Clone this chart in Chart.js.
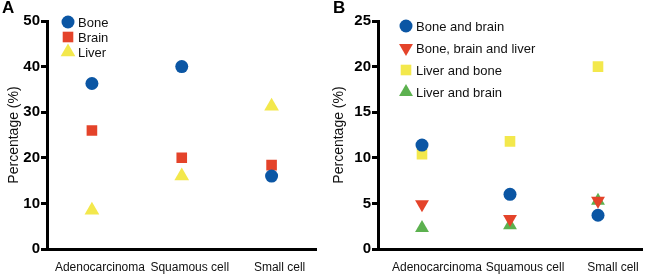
<!DOCTYPE html>
<html>
<head>
<meta charset="utf-8">
<script src="https://cdn.jsdelivr.net/npm/chart.js@4/dist/chart.umd.min.js"></script>
<style>
  body { margin: 0; background: #fff; }
  #wrap { position: relative; width: 650px; height: 277px; }
  .panel { position: absolute; top: 0; width: 325px; height: 277px; }
  .letter { position: absolute; top: -2px; font: bold 17px "Liberation Sans", Arial, sans-serif; }
</style>
</head>
<body>
<div id="wrap">
  <div class="panel" style="left:0"><canvas id="chartA" width="325" height="277"></canvas></div>
  <div class="panel" style="left:325px"><canvas id="chartB" width="325" height="277"></canvas></div>
  <div class="letter" style="left:2px">A</div>
  <div class="letter" style="left:333px">B</div>
</div>
<script>
// categorias
const categorias = ['Adenocarcinoma', 'Squamous cell', 'Small cell'];

// painel A
const boneA = [36.3, 40.0, 16.0];
const brainA = [26.0, 20.0, 18.4];
const liverA = [8.5, 16.0, 31.3];
const ticksA = [0, 10, 20, 30, 40, 50];

// painel B
const boneBrainB = [11.4, 6.0, 3.7];
const boneBrainLiverB = [4.9, 3.3, 5.3];
const liverBoneB = [10.4, 11.8, 20.0];
const liverBrainB = [2.3, 2.6, 5.3];
const ticksB = [0, 5, 10, 15, 20, 25];

const azul = '#0b56a4';
const vermelho = '#e4432a';
const amarelo = '#f3e84c';
const verde = '#5cb14f';
const fonte = '"Liberation Sans", Arial, sans-serif';

function serie(label, data, cor, estilo, raio, rotacao) {
    return {
        label: label,
        data: data,
        showLine: false,
        pointStyle: estilo,
        pointRadius: raio,
        pointHoverRadius: raio,
        pointRotation: rotacao || 0,
        pointBackgroundColor: cor,
        pointBorderColor: cor,
        pointBorderWidth: 0
    };
}

// legenda desenhada dentro da area do grafico
const legendaInterna = {
    id: 'legendaInterna',
    afterDraw(chart, args, opts) {
        const ctx = chart.ctx;
        ctx.save();
        ctx.font = '13px ' + fonte;
        ctx.textBaseline = 'middle';
        chart.data.datasets.forEach((ds, i) => {
            const y = opts.y + i * opts.passo;
            ctx.fillStyle = ds.pointBackgroundColor;
            ctx.strokeStyle = ds.pointBackgroundColor;
            Chart.helpers.drawPoint(ctx, {
                pointStyle: ds.pointStyle,
                radius: ds.pointRadius,
                rotation: ds.pointRotation,
                borderWidth: 0
            }, opts.x, y);
            ctx.fillStyle = '#111';
            ctx.fillText(ds.label, opts.x + 10, y + 1);
        });
        ctx.restore();
    }
};

function config(datasets, ticks, esquerda, deslocamento, legenda) {
    const maximo = ticks[ticks.length - 1];
    return {
        type: 'line',
        data: { labels: categorias, datasets: datasets },
        options: {
            responsive: false,
            animation: false,
            layout: { padding: { top: 21, right: 6, left: 0, bottom: 0 } },
            plugins: {
                legend: { display: false },
                tooltip: { enabled: false },
                legendaInterna: legenda
            },
            scales: {
                x: {
                    offset: true,
                    grid: { display: false, drawTicks: false },
                    border: { display: true, color: '#000', width: 3 },
                    ticks: { color: '#111', font: { family: fonte, size: 12 }, padding: 11, labelOffset: deslocamento, maxRotation: 0, minRotation: 0, autoSkip: false },
                    afterFit: s => { s.height = 28; s.paddingLeft = 0; s.paddingRight = 0; }
                },
                y: {
                    min: 0,
                    max: maximo,
                    afterBuildTicks: s => { s.ticks = ticks.map(v => ({ value: v })); },
                    grid: { drawOnChartArea: false, drawTicks: true, tickLength: 6, color: '#000', lineWidth: 3 },
                    border: { display: true, color: '#000', width: 3 },
                    ticks: { color: '#000', font: { family: fonte, size: 15, weight: 'bold' }, padding: 1 },
                    title: { display: true, text: 'Percentage (%)', color: '#111', font: { family: fonte, size: 14 }, padding: { top: 6, bottom: 2 } },
                    afterFit: s => { s.width = esquerda; }
                }
            }
        },
        plugins: [legendaInterna]
    };
}

document.addEventListener('DOMContentLoaded', function() {
    new Chart(document.getElementById('chartA').getContext('2d'), config([
        serie('Bone', boneA, azul, 'circle', 6.5),
        serie('Brain', brainA, vermelho, 'rect', 7.5),
        serie('Liver', liverA, amarelo, 'triangle', 8.5)
    ], ticksA, 47, 8, { x: 68, y: 22, passo: 15 }));

    new Chart(document.getElementById('chartB').getContext('2d'), config([
        serie('Bone and brain', boneBrainB, azul, 'circle', 6.5),
        serie('Bone, brain and liver', boneBrainLiverB, vermelho, 'triangle', 8, 180),
        serie('Liver and bone', liverBoneB, amarelo, 'rect', 7.5),
        serie('Liver and brain', liverBrainB, verde, 'triangle', 8)
    ], ticksB, 53, 15, { x: 81, y: 26, passo: 22 }));
});
</script>
</body>
</html>
